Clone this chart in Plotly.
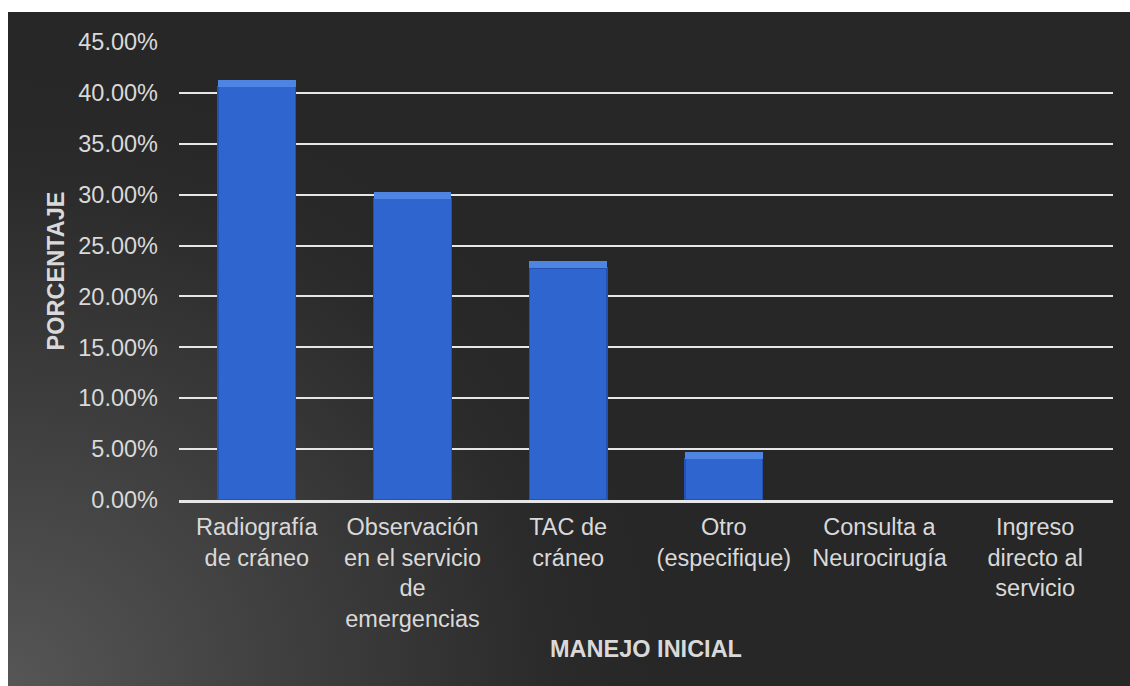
import base64
import plotly.graph_objects as go

# Manejo inicial: porcentaje de pacientes por tipo de manejo
categorias = [
    "Radiografía<br>de cráneo",
    "Observación<br>en el servicio<br>de<br>emergencias",
    "TAC de<br>cráneo",
    "Otro<br>(especifique)",
    "Consulta a<br>Neurocirugía",
    "Ingreso<br>directo al<br>servicio",
]
porcentajes = [41.3, 30.3, 23.5, 4.75, 0.0, 0.0]
ticks_y = [0, 5, 10, 15, 20, 25, 30, 35, 40, 45]

FONT = "Liberation Sans, Arial, sans-serif"
TXT = "#d9d9d9"
BEVEL = 0.7  # highlight band at the top of each bar, in percent units

cuerpo = [max(v - BEVEL, 0) if v > 0 else None for v in porcentajes]
brillo = [min(BEVEL, v) if v > 0 else None for v in porcentajes]

# dark backdrop, lighter toward the lower-left corner
svg = (
    '<svg xmlns="http://www.w3.org/2000/svg" width="1122" height="674" '
    'viewBox="0 0 1122 674" preserveAspectRatio="none">'
    '<defs><radialGradient id="g" gradientUnits="userSpaceOnUse" '
    'cx="0" cy="674" r="640" gradientTransform="translate(0,674) scale(1,0.95) translate(0,-674)">'
    '<stop offset="0" stop-color="#565656"/>'
    '<stop offset="0.45" stop-color="#3e3e3e"/>'
    '<stop offset="0.85" stop-color="#2a2a2a"/>'
    '<stop offset="1" stop-color="#272727"/>'
    '</radialGradient></defs>'
    '<rect width="1122" height="674" fill="#272727"/>'
    '<rect width="1122" height="674" fill="url(#g)"/></svg>'
)
fondo = "data:image/svg+xml;base64," + base64.b64encode(svg.encode()).decode()

fig = go.Figure()
fig.add_trace(go.Bar(
    x=categorias, y=cuerpo,
    marker=dict(color="#2e65ce", line=dict(color="#2352b0", width=1.2)),
    hoverinfo="skip", showlegend=False,
))
fig.add_trace(go.Bar(
    x=categorias, y=brillo,
    marker=dict(color="#4f85e2", line=dict(width=0)),
    customdata=porcentajes,
    hovertemplate="%{x}: %{customdata:.2f}%<extra></extra>",
    showlegend=False,
))

W, H = 1130, 686
L, R, T, B = 179, 17, 42, 186
pw, ph = W - L - R, H - T - B
x0 = (8 - L) / pw
y1 = (H - B - 12) / ph
y0 = (H - B - H) / ph

fig.update_layout(
    width=W, height=H,
    margin=dict(l=L, r=R, t=T, b=B),
    paper_bgcolor="white",
    plot_bgcolor="rgba(0,0,0,0)",
    barmode="stack",
    bargap=0.5,
    font=dict(family=FONT, size=23.5, color=TXT),
    images=[dict(
        source=fondo, xref="paper", yref="paper",
        x=x0, y=y1, sizex=1 - x0 + R / pw + 0.01, sizey=y1 - y0,
        xanchor="left", yanchor="top", sizing="stretch", layer="below",
    )],
    xaxis=dict(
        showgrid=False, showline=True, linecolor="#e6e6e6", linewidth=2.5,
        ticks="", ticklabelstandoff=4,
        tickfont=dict(family=FONT, size=23.5, color=TXT),
        title=dict(text="<b>MANEJO INICIAL</b>", standoff=10,
                   font=dict(family=FONT, size=23.5, color=TXT)),
        fixedrange=True,
    ),
    yaxis=dict(
        range=[0, 45], tickvals=ticks_y,
        ticktext=[f"{v:.2f}%" for v in ticks_y],
        showgrid=True, gridcolor="#e6e6e6", gridwidth=2,
        zeroline=False, showline=False,
        ticks="", ticklabelstandoff=20,
        tickfont=dict(family=FONT, size=23.5, color=TXT),
        title=dict(text="<b>PORCENTAJE</b>", standoff=7,
                   font=dict(family=FONT, size=23.5, color=TXT)),
        fixedrange=True,
    ),
)

fig.write_html("out.html")
